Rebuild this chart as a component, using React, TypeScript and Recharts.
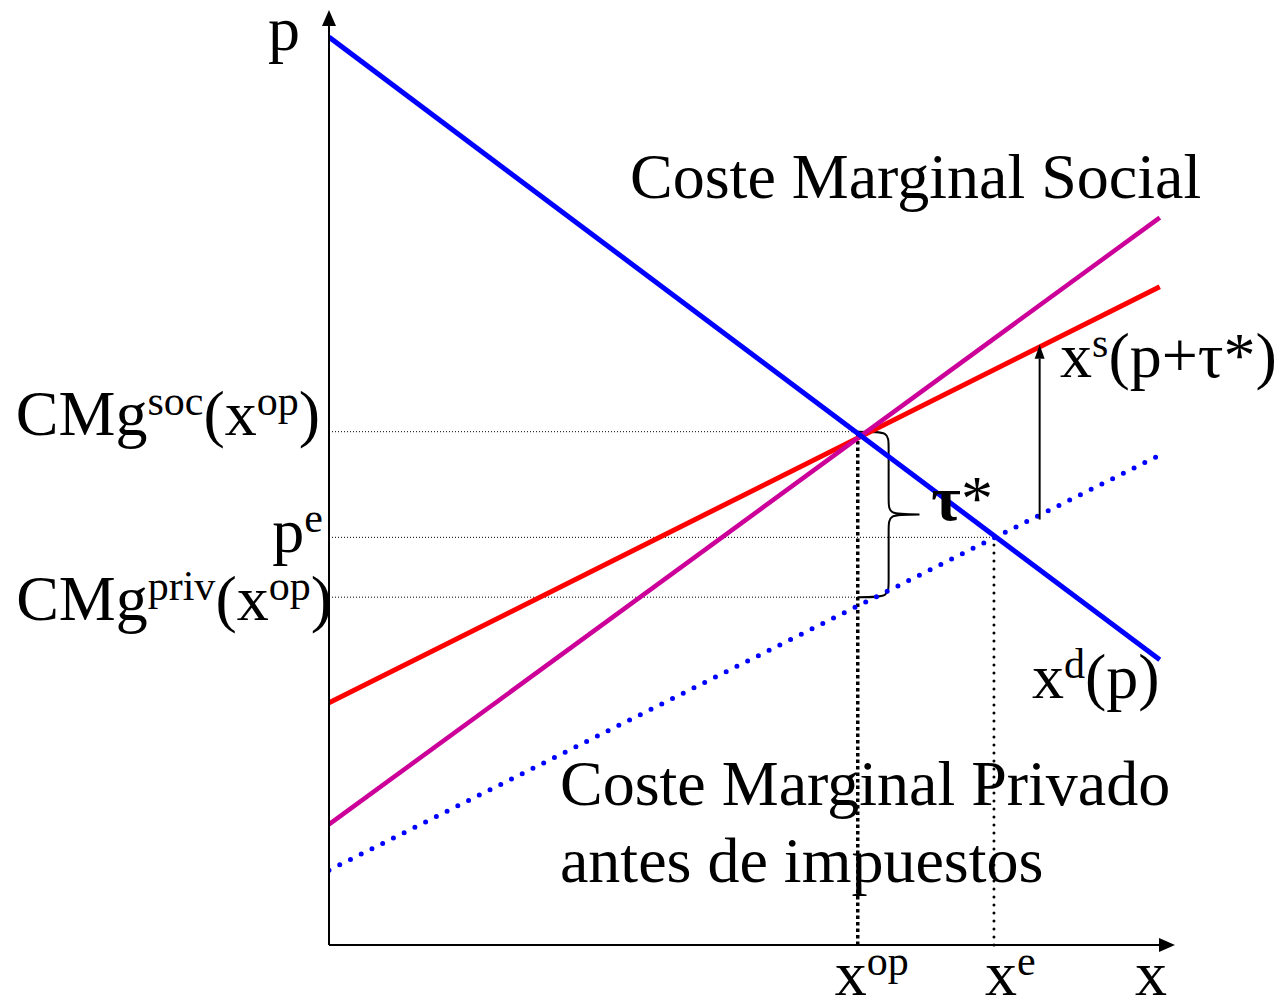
import React from "react";
import {
  LineChart,
  Line,
  XAxis,
  YAxis,
  ReferenceLine,
  ReferenceDot,
  ReferenceArea,
} from "recharts";

// quantities on both axes run 0..10
const xOp = 6.25;
const xE = 7.86;
const pE = 4.36;
const cmgSoc = 5.49;
const cmgPriv = 3.72;
const xEnd = 9.82;

const demand = [
  { x: 0, y: 9.71 },
  { x: xEnd, y: 3.05 },
];
const socialCost = [
  { x: 0, y: 1.29 },
  { x: xEnd, y: 7.78 },
];
const taxedSupply = [
  { x: 0, y: 2.59 },
  { x: xEnd, y: 7.04 },
];
const privateCost = [
  { x: 0, y: 0.8 },
  { x: xEnd, y: 5.24 },
];

const xTicks = [xOp, xE];
const xTickLabels = ["x^{op}", "x^{e}"];
const yTicks = [cmgSoc, pE, cmgPriv];
const yTickLabels = ["CMg^{soc}(x^{op})", "p^{e}", "CMg^{priv}(x^{op})"];

const taxArrow = [
  { x: 8.4, y: 4.55 },
  { x: 8.4, y: 6.42 },
];

const FONT = "'Liberation Serif', 'Times New Roman', serif";
const SIZE = 64;
const SUP = 42;
const RISE = 20;

// "a^{b}c" -> tspans with superscripts
function Rich({ text }: { text: string }) {
  const parts: React.ReactNode[] = [];
  const re = /\^\{([^}]*)\}/g;
  let last = 0;
  let m: RegExpExecArray | null;
  let k = 0;
  let raised = false;
  while ((m = re.exec(text))) {
    if (m.index > last) {
      parts.push(
        <tspan key={k++} fontSize={SIZE} dy={raised ? RISE : 0}>
          {text.slice(last, m.index)}
        </tspan>
      );
      raised = false;
    }
    parts.push(
      <tspan key={k++} fontSize={SUP} dy={-RISE}>
        {m[1]}
      </tspan>
    );
    raised = true;
    last = re.lastIndex;
  }
  if (last < text.length) {
    parts.push(
      <tspan key={k++} fontSize={SIZE} dy={raised ? RISE : 0}>
        {text.slice(last)}
      </tspan>
    );
  }
  return <>{parts}</>;
}

const yNudge = [
  { dx: -9, dy: 3 },
  { dx: -6, dy: 15 },
  { dx: 3, dy: 23 },
];
const xNudge = [-23, -9];

function YTick(props: any) {
  const { x, y, payload } = props;
  const i = yTicks.indexOf(payload.value);
  if (i < 0) return null;
  return (
    <text
      x={x + yNudge[i].dx}
      y={y + yNudge[i].dy}
      textAnchor="end"
      fontFamily={FONT}
      fontSize={SIZE}
      fill="#000"
    >
      <Rich text={yTickLabels[i]} />
    </text>
  );
}

function XTick(props: any) {
  const { x, y, payload } = props;
  const i = xTicks.indexOf(payload.value);
  if (i < 0) return null;
  return (
    <text x={x + xNudge[i]} y={y + 50} textAnchor="start" fontFamily={FONT} fontSize={SIZE} fill="#000">
      <Rich text={xTickLabels[i]} />
    </text>
  );
}

function Arrow(head: number, half: number) {
  return (props: any) => {
    const { x1, y1, x2, y2 } = props;
    const ang = Math.atan2(y2 - y1, x2 - x1);
    const bx = x2 - head * Math.cos(ang);
    const by = y2 - head * Math.sin(ang);
    const px = -Math.sin(ang) * half;
    const py = Math.cos(ang) * half;
    return (
      <g>
        <line x1={x1} y1={y1} x2={bx} y2={by} stroke="#000" strokeWidth={2} />
        <polygon points={`${x2},${y2} ${bx + px},${by + py} ${bx - px},${by - py}`} fill="#000" />
      </g>
    );
  };
}

function Brace(props: any) {
  const { x, y, width, height } = props;
  const mx = x + width / 2;
  const ym = y + height / 2;
  const r = 18;
  const d = [
    `M ${x} ${y}`,
    `C ${mx} ${y} ${mx} ${y} ${mx} ${y + r}`,
    `L ${mx} ${ym - r}`,
    `C ${mx} ${ym} ${mx} ${ym} ${x + width} ${ym}`,
    `C ${mx} ${ym} ${mx} ${ym} ${mx} ${ym + r}`,
    `L ${mx} ${y + height - r}`,
    `C ${mx} ${y + height} ${mx} ${y + height} ${x} ${y + height}`,
  ].join(" ");
  return <path d={d} fill="none" stroke="#000" strokeWidth={2} />;
}

const notes = [
  { x: -0.72, y: 9.57, text: "p", bold: false },
  { x: 3.558, y: 7.99, text: "Coste Marginal Social", bold: false },
  { x: 8.641, y: 6.075, text: "x^{s}(p+τ*)", bold: false },
  { x: 7.12, y: 4.545, text: "τ", bold: true },
  { x: 7.47, y: 4.545, text: "*", bold: false },
  { x: 8.31, y: 2.642, text: "x^{d}(p)", bold: false },
  { x: 2.73, y: 1.497, text: "Coste Marginal Privado", bold: false },
  { x: 2.73, y: 0.674, text: "antes de impuestos", bold: false },
  { x: 9.527, y: -0.535, text: "x", bold: false },
];

function NoteShape(text: string, bold: boolean) {
  return (props: any) => (
    <text
      x={props.cx}
      y={props.cy}
      fontFamily={FONT}
      fontSize={SIZE}
      fontWeight={bold ? "bold" : "normal"}
      fill="#000"
    >
      <Rich text={text} />
    </text>
  );
}

export default function App() {
  return (
    <div style={{ position: "absolute", left: 0, top: 0, background: "#fff" }}>
      <LineChart width={1282} height={999} margin={{ top: 10, right: 107, bottom: 0, left: 0 }}>
        <XAxis
          type="number"
          dataKey="x"
          domain={[0, 10]}
          ticks={xTicks}
          tick={<XTick />}
          axisLine={false}
          tickLine={false}
          tickSize={0}
          tickMargin={0}
          height={54}
          allowDataOverflow
        />
        <YAxis
          type="number"
          dataKey="y"
          domain={[0, 10]}
          ticks={yTicks}
          tick={<YTick />}
          axisLine={false}
          tickLine={false}
          tickSize={0}
          tickMargin={0}
          width={329}
          allowDataOverflow
        />

        <ReferenceLine segment={[{ x: 0, y: cmgSoc }, { x: xOp, y: cmgSoc }]} stroke="#000" strokeWidth={1} strokeDasharray="1 2" />
        <ReferenceLine segment={[{ x: 0, y: pE }, { x: xE, y: pE }]} stroke="#000" strokeWidth={1} strokeDasharray="1 2" />
        <ReferenceLine segment={[{ x: 0, y: cmgPriv }, { x: xOp, y: cmgPriv }]} stroke="#000" strokeWidth={1} strokeDasharray="1 2" />
        <ReferenceLine segment={[{ x: xOp, y: 0 }, { x: xOp, y: cmgSoc }]} stroke="#000" strokeWidth={3.5} strokeDasharray="3.5 3" />
        <ReferenceLine
          segment={[{ x: xE, y: 0 }, { x: xE, y: pE }]}
          stroke="#000"
          strokeWidth={3}
          strokeDasharray="0 8"
          strokeLinecap="round"
        />

        <Line data={privateCost} dataKey="y" stroke="#0000FF" strokeWidth={5} strokeDasharray="0 12" strokeLinecap="round" dot={false} isAnimationActive={false} />
        <Line data={taxedSupply} dataKey="y" stroke="#FF0000" strokeWidth={5} dot={false} isAnimationActive={false} />
        <Line data={socialCost} dataKey="y" stroke="#CC0099" strokeWidth={4.5} dot={false} isAnimationActive={false} />
        <Line data={demand} dataKey="y" stroke="#0000FF" strokeWidth={5} dot={false} isAnimationActive={false} />

        <ReferenceArea x1={xOp} x2={xOp + 0.73} y1={cmgPriv} y2={cmgSoc} shape={<Brace />} ifOverflow="visible" />
        <ReferenceLine segment={taxArrow} shape={Arrow(14, 5)} />

        <ReferenceLine segment={[{ x: 0, y: 0 }, { x: 10, y: 0 }]} shape={Arrow(16, 7)} ifOverflow="visible" />
        <ReferenceLine segment={[{ x: 0, y: 0 }, { x: 0, y: 10 }]} shape={Arrow(16, 7)} ifOverflow="visible" />

        {notes.map((n) => (
          <ReferenceDot key={n.text} x={n.x} y={n.y} r={0} ifOverflow="visible" shape={NoteShape(n.text, n.bold)} />
        ))}
      </LineChart>
    </div>
  );
}
